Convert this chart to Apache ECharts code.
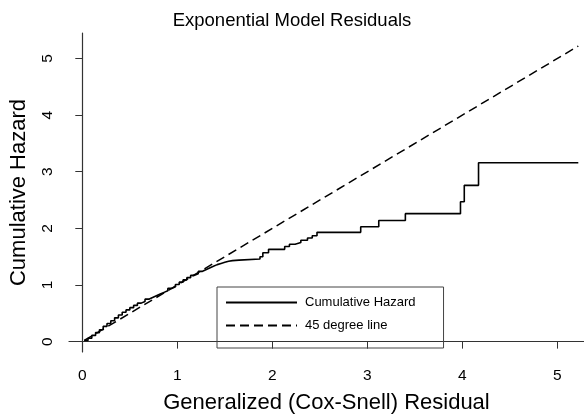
<!DOCTYPE html>
<html>
<head>
<meta charset="utf-8">
<script src="https://cdn.jsdelivr.net/npm/echarts@6/dist/echarts.min.js"></script>
<style>
  html, body { margin: 0; padding: 0; background: #fff; }
  #chart { width: 584px; height: 419px; }
</style>
</head>
<body>
<div id="chart"></div>
<script>
(function() {
    "use strict";

    // Nelson-Aalen cumulative hazard of the Cox-Snell residuals
    var residuals = [0.02, 0.06, 0.10, 0.14, 0.18, 0.22, 0.26, 0.30, 0.34, 0.38,
                     0.42, 0.46, 0.50, 0.54, 0.58, 0.62, 0.66, 0.70, 0.74, 0.78,
                     0.82, 0.86, 0.90, 0.94, 0.98, 1.02, 1.06, 1.10, 1.14, 1.18,
                     1.22, 1.26, 1.30, 1.34, 1.38, 1.42, 1.46, 1.50, 1.54, 1.58,
                     1.65, 1.87, 1.90, 1.96, 2.13, 2.18, 2.24, 2.30, 2.37, 2.42,
                     2.47, 2.93, 3.12, 3.40, 3.98, 4.02, 4.17, 5.22];
    var cumHazard = [0.02, 0.06, 0.11, 0.16, 0.21, 0.27, 0.32, 0.37, 0.42, 0.47,
                     0.52, 0.56, 0.60, 0.64, 0.68, 0.71, 0.75, 0.78, 0.81, 0.84,
                     0.87, 0.90, 0.94, 0.97, 1.01, 1.05, 1.09, 1.13, 1.17, 1.20,
                     1.24, 1.27, 1.30, 1.33, 1.36, 1.38, 1.40, 1.42, 1.43, 1.44,
                     1.46, 1.50, 1.57, 1.63, 1.68, 1.72, 1.75, 1.79, 1.83, 1.87,
                     1.93, 2.03, 2.14, 2.26, 2.47, 2.76, 3.16, 3.16];

    // 45 degree reference line
    var refLine = [0.02, 5.22];

    var xTicks = [0, 1, 2, 3, 4, 5];
    var yTicks = [0, 1, 2, 3, 4, 5];

    var hazardData = residuals.map(function(r, i) { return [r, cumHazard[i]]; });
    var refData = refLine.map(function(v) { return [v, v]; });

    var font = 'Liberation Sans, Arial, Helvetica, sans-serif';

    var chart = echarts.init(document.getElementById('chart'));
    var option = {
        animation: false,
        backgroundColor: '#fff',

        title: {
            text: 'Exponential Model Residuals',
            left: 'center',
            top: 6,
            textStyle: { fontFamily: font, fontSize: 18.5, fontWeight: 'normal', color: '#000' }
        },

        legend: {
            orient: 'vertical',
            left: 217,
            top: 287,
            data: ['Cumulative Hazard', '45 degree line'],
            itemWidth: 71,
            itemHeight: 14,
            itemGap: 10,
            padding: [9, 28, 16, 8],
            borderColor: '#444',
            borderWidth: 1,
            itemStyle: { opacity: 0 },
            textStyle: { fontFamily: font, fontSize: 13, color: '#000', padding: [0, 0, 0, 3] }
        },

        grid: { left: 69, right: 0, top: 33, bottom: 66 },

        xAxis: {
            type: 'value',
            min: -0.14,
            max: 5.28,
            name: 'Generalized (Cox-Snell) Residual',
            nameLocation: 'middle',
            nameGap: 40,
            nameTextStyle: { fontFamily: font, fontSize: 22, color: '#000' },
            axisLine: { show: true, lineStyle: { color: '#333', width: 1.2 } },
            axisTick: { show: true, length: 7, customValues: xTicks, lineStyle: { color: '#333' } },
            axisLabel: { customValues: xTicks, margin: 16, fontFamily: font, fontSize: 15.5, color: '#000' },
            splitLine: { show: false }
        },

        yAxis: {
            type: 'value',
            min: -0.183,
            max: 5.45,
            name: 'Cumulative Hazard',
            nameLocation: 'middle',
            nameGap: 39,
            nameTextStyle: { fontFamily: font, fontSize: 22, color: '#000' },
            axisLine: { show: true, lineStyle: { color: '#333', width: 1.2 } },
            axisTick: { show: true, length: 7, customValues: yTicks, lineStyle: { color: '#333' } },
            axisLabel: { customValues: yTicks, rotate: 90, margin: 13, fontFamily: font, fontSize: 15.5, color: '#000' },
            splitLine: { show: false }
        },

        series: [{
            name: 'Cumulative Hazard',
            type: 'line',
            step: 'end',
            symbol: 'none',
            data: hazardData,
            itemStyle: { color: '#000' },
            lineStyle: { color: '#000', width: 1.6 }
        }, {
            name: '45 degree line',
            type: 'line',
            symbol: 'none',
            data: refData,
            itemStyle: { color: '#000' },
            lineStyle: { color: '#000', width: 1.5, type: [9, 5] }
        }]
    };

    chart.setOption(option);
})();
</script>
</body>
</html>
